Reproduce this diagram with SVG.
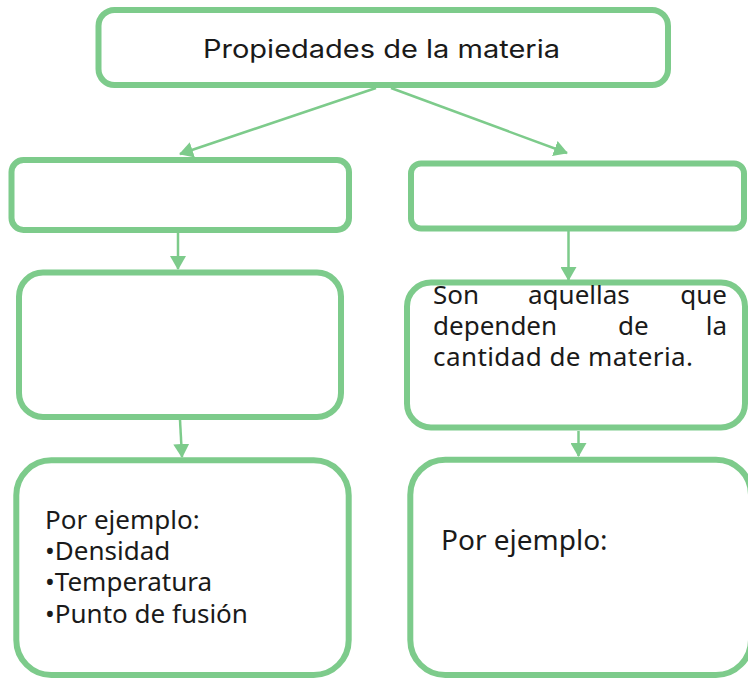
<svg xmlns="http://www.w3.org/2000/svg" width="748" height="679" viewBox="0 0 748 679">
  <style>
    .box { fill: #ffffff; stroke: #7dcb8b; stroke-width: 6; }
    .conn { stroke: #7dcb8b; stroke-width: 2.5; fill: none; }
    .t { font-family: "Noto Sans", "Open Sans", sans-serif; fill: #1a1a1a; }
  </style>
  <defs>
    <marker id="ah" viewBox="0 0 14 16" refX="13" refY="8" markerWidth="14" markerHeight="16" markerUnits="userSpaceOnUse" orient="auto">
      <path d="M0,0 L14,8 L0,16 z" fill="#7dcb8b"/>
    </marker>
  </defs>
  <rect width="748" height="679" fill="#ffffff"/>

  <g id="connectors">
    <line class="conn" x1="376" y1="88" x2="180" y2="154" marker-end="url(#ah)"/>
    <line class="conn" x1="391" y1="88" x2="567" y2="153" marker-end="url(#ah)"/>
    <line class="conn" x1="178" y1="233" x2="178" y2="269" marker-end="url(#ah)"/>
    <line class="conn" x1="568.5" y1="231" x2="568.5" y2="280" marker-end="url(#ah)"/>
    <line class="conn" x1="180" y1="420" x2="182" y2="457" marker-end="url(#ah)"/>
    <line class="conn" x1="578.5" y1="431" x2="578.5" y2="456" marker-end="url(#ah)"/>
  </g>

  <g id="top">
    <rect class="box" x="98.5" y="10" width="569.5" height="75" rx="16"/>
    <text x="203" y="58" font-size="25" textLength="357" lengthAdjust="spacingAndGlyphs" font-family="Inter, 'Noto Sans', sans-serif" fill="#1a1a1a">Propiedades de la materia</text>
  </g>

  <g id="left-type">
    <rect class="box" x="11.5" y="160" width="337.5" height="70" rx="12"/>
  </g>

  <g id="right-type">
    <rect class="box" x="411" y="163.5" width="333" height="65" rx="10"/>
  </g>

  <g id="left-def">
    <rect class="box" x="19" y="272.5" width="322" height="144.5" rx="24"/>
  </g>

  <g id="right-def">
    <rect class="box" x="407" y="282.5" width="338" height="145" rx="24"/>
    <text class="t" font-size="26">
      <tspan x="433" y="304">Son</tspan>
      <tspan x="528" y="304">aquellas</tspan>
    </text>
    <text class="t" font-size="26" x="727" y="304" text-anchor="end">que</text>
    <text class="t" font-size="26">
      <tspan x="433" y="335">dependen</tspan>
      <tspan x="618" y="335">de</tspan>
    </text>
    <text class="t" font-size="26" x="727" y="335" text-anchor="end">la</text>
    <text class="t" font-size="26" x="433" y="366" textLength="260">cantidad de materia.</text>
  </g>

  <g id="left-examples">
    <rect class="box" x="16.3" y="460.3" width="332.4" height="214.7" rx="35"/>
    <text class="t" font-size="26" x="45" y="529">Por ejemplo:</text>
    <text class="t" font-size="26" x="45" y="560">•Densidad</text>
    <text class="t" font-size="26" x="45" y="591">•Temperatura</text>
    <text class="t" font-size="26" x="45" y="623">•Punto de fusión</text>
  </g>

  <g id="right-examples">
    <rect class="box" x="410.3" y="459.7" width="340.7" height="215.3" rx="35"/>
    <text class="t" font-size="28" x="441" y="550">Por ejemplo:</text>
  </g>
</svg>
